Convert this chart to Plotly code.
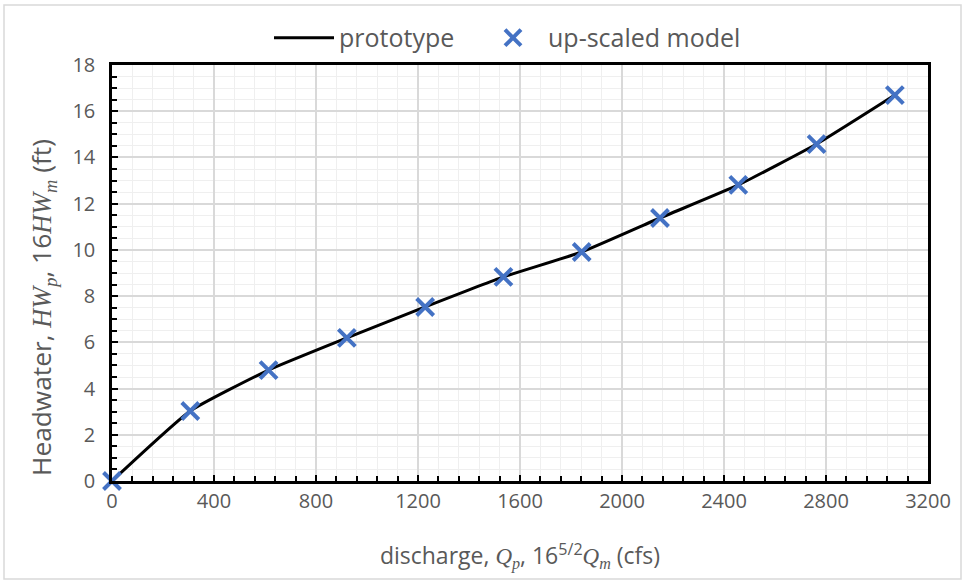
import plotly.graph_objects as go

discharge = [0, 307, 614, 921, 1228, 1535, 1842, 2149, 2456, 2763, 3070]
headwater_proto = [0, 3.03, 4.8, 6.19, 7.53, 8.83, 9.91, 11.38, 12.81, 14.58, 16.70]
headwater_model = [0, 3.03, 4.8, 6.19, 7.53, 8.83, 9.91, 11.38, 12.81, 14.58, 16.70]

gray = "#595959"
serif = "style='font-family:\"Liberation Serif\", serif'"
ytitle = f"Headwater, <span {serif}><i>HW</i><sub><i>p</i></sub></span>, 16<span {serif}><i>HW</i><sub><i>m</i></sub></span> (ft)"

fig = go.Figure()
fig.add_trace(go.Scatter(
    x=discharge, y=headwater_proto, mode="lines", name="prototype",
    line=dict(color="black", width=3, shape="spline", smoothing=0.45),
    cliponaxis=False, legend="legend",
))
fig.add_trace(go.Scatter(
    x=discharge, y=headwater_model, mode="markers", name="up-scaled model",
    marker=dict(symbol="x-thin", size=17, line=dict(color="#4472C4", width=4), color="#4472C4"),
    cliponaxis=False, legend="legend2",
))

leg_common = dict(orientation="h", xanchor="left", y=1.065, yanchor="middle",
                  font=dict(size=25, color=gray), itemwidth=60, bgcolor="rgba(0,0,0,0)")

fig.update_layout(
    width=963, height=582,
    margin=dict(l=112, r=35, t=65, b=101, autoexpand=False),
    paper_bgcolor="white", plot_bgcolor="white",
    font=dict(family="Open Sans, Liberation Sans, sans-serif", color=gray, size=20),
    showlegend=True,
    legend=dict(x=(269 - 112) / 816, **leg_common),
    legend2=dict(x=(478 - 112) / 816, **leg_common),
    xaxis=dict(
        range=[0, 3200], dtick=400, tick0=0,
        showgrid=True, gridcolor="#d9d9d9", gridwidth=1.5,
        showline=True, linecolor="black", linewidth=2.5, mirror=True,
        ticks="inside", ticklen=6, tickwidth=2, tickcolor="black",
        zeroline=False,
        minor=dict(dtick=80, showgrid=True, gridcolor="#efefef", gridwidth=1,
                   ticks="inside", ticklen=5, tickwidth=2, tickcolor="black"),
        tickfont=dict(size=20, color=gray),
        title=dict(text=f"discharge, <span {serif}><i>Q</i><sub><i>p</i></sub></span>, 16<sup>5/2</sup><span {serif}><i>Q</i><sub><i>m</i></sub></span> (cfs)",
                   font=dict(size=23, color=gray), standoff=36),
    ),
    yaxis=dict(
        range=[0, 18], dtick=2, tick0=0,
        showgrid=True, gridcolor="#d9d9d9", gridwidth=1.5,
        showline=True, linecolor="black", linewidth=2.5, mirror=True,
        ticks="inside", ticklen=6, tickwidth=2, tickcolor="black",
        zeroline=False, ticklabelstandoff=10,
        minor=dict(dtick=0.5, showgrid=True, gridcolor="#efefef", gridwidth=1,
                   ticks="inside", ticklen=5, tickwidth=2, tickcolor="black"),
        tickfont=dict(size=20, color=gray),
    ),
    annotations=[dict(text=ytitle, xref="paper", yref="paper",
                      x=(42 - 112) / 816, y=(481 - 308) / 416,
                      xanchor="center", yanchor="middle", textangle=-90,
                      showarrow=False, font=dict(size=26.3, color=gray))],
    shapes=[dict(type="rect", xref="paper", yref="paper",
                 x0=(4 - 112) / 816, x1=(961 - 112) / 816,
                 y0=(481 - 579) / 416, y1=(481 - 5) / 416,
                 line=dict(color="#d9d9d9", width=1.5), layer="below")],
)

fig.write_html("out.html")
